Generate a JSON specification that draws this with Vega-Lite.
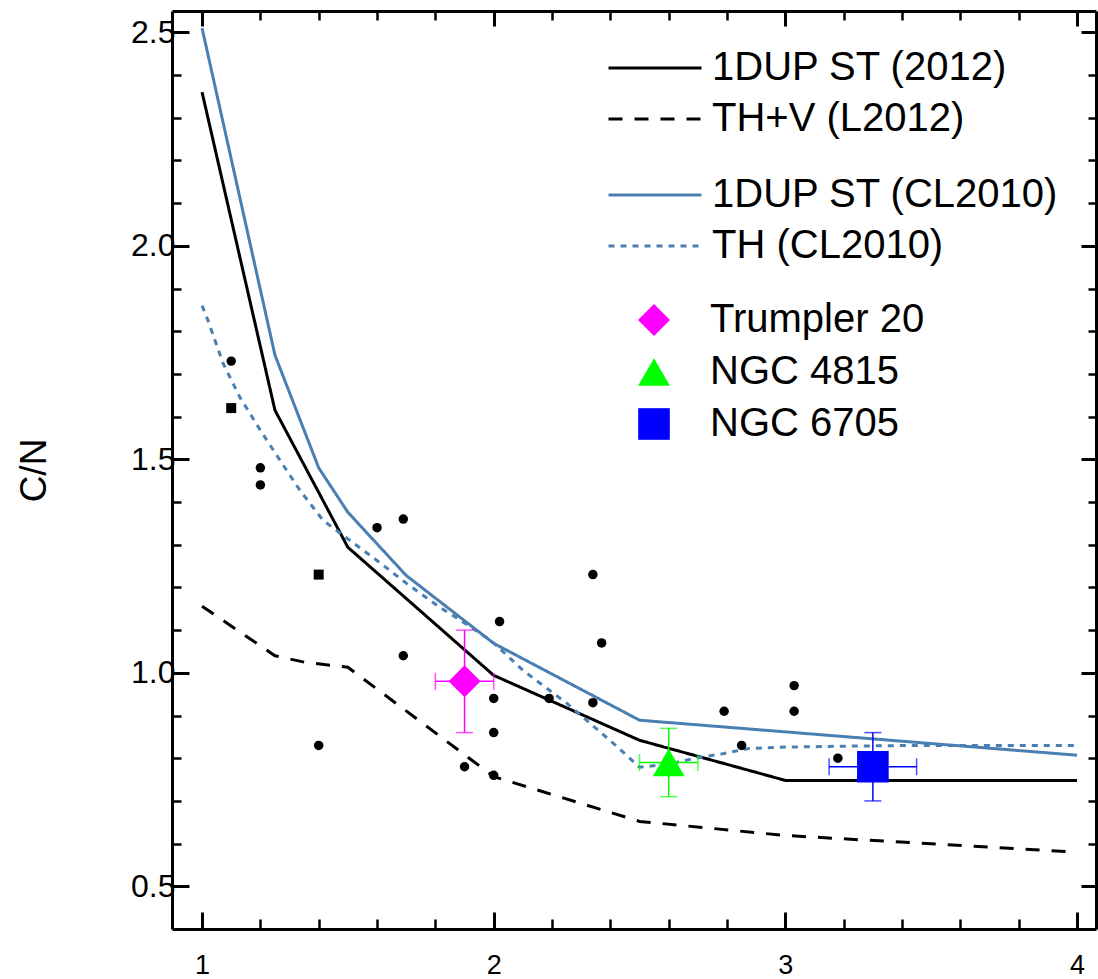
{
  "$schema": "https://vega.github.io/schema/vega-lite/v6.json",
  "width": 924,
  "height": 918,
  "autosize": {"type": "none"},
  "padding": {"left": 172, "top": 11, "right": 2, "bottom": 50},
  "background": "white",
  "config": {
    "view": {"stroke": null},
    "font": "Liberation Sans",
    "legend": {
      "labelFont": "Liberation Sans",
      "labelFontSize": 40,
      "labelColor": "black",
      "labelLimit": 600,
      "padding": 0,
      "title": null
    }
  },
  "datasets": {
    "black": [
      {"model": "1DUP ST (2012)", "m": 1.0, "cn": 2.36},
      {"model": "1DUP ST (2012)", "m": 1.25, "cn": 1.615},
      {"model": "1DUP ST (2012)", "m": 1.5, "cn": 1.294},
      {"model": "1DUP ST (2012)", "m": 2.0, "cn": 0.994},
      {"model": "1DUP ST (2012)", "m": 2.5, "cn": 0.842},
      {"model": "1DUP ST (2012)", "m": 3.0, "cn": 0.748},
      {"model": "1DUP ST (2012)", "m": 4.0, "cn": 0.748},
      {"model": "TH+V (L2012)", "m": 1.0, "cn": 1.156},
      {"model": "TH+V (L2012)", "m": 1.25, "cn": 1.04},
      {"model": "TH+V (L2012)", "m": 1.35, "cn": 1.025},
      {"model": "TH+V (L2012)", "m": 1.5, "cn": 1.013},
      {"model": "TH+V (L2012)", "m": 2.0, "cn": 0.757},
      {"model": "TH+V (L2012)", "m": 2.5, "cn": 0.652},
      {"model": "TH+V (L2012)", "m": 3.0, "cn": 0.619},
      {"model": "TH+V (L2012)", "m": 4.0, "cn": 0.58}
    ],
    "blue": [
      {"model": "1DUP ST (CL2010)", "m": 1.0, "cn": 2.51},
      {"model": "1DUP ST (CL2010)", "m": 1.25, "cn": 1.744},
      {"model": "1DUP ST (CL2010)", "m": 1.4, "cn": 1.48},
      {"model": "1DUP ST (CL2010)", "m": 1.5, "cn": 1.376},
      {"model": "1DUP ST (CL2010)", "m": 1.7, "cn": 1.228},
      {"model": "1DUP ST (CL2010)", "m": 2.0, "cn": 1.069},
      {"model": "1DUP ST (CL2010)", "m": 2.5, "cn": 0.889},
      {"model": "1DUP ST (CL2010)", "m": 4.0, "cn": 0.807},
      {"model": "TH (CL2010)", "m": 1.0, "cn": 1.86},
      {"model": "TH (CL2010)", "m": 1.02, "cn": 1.826},
      {"model": "TH (CL2010)", "m": 1.072, "cn": 1.725},
      {"model": "TH (CL2010)", "m": 1.13, "cn": 1.645},
      {"model": "TH (CL2010)", "m": 1.2, "cn": 1.568},
      {"model": "TH (CL2010)", "m": 1.267, "cn": 1.498},
      {"model": "TH (CL2010)", "m": 1.336, "cn": 1.427},
      {"model": "TH (CL2010)", "m": 1.415, "cn": 1.357},
      {"model": "TH (CL2010)", "m": 1.507, "cn": 1.31},
      {"model": "TH (CL2010)", "m": 1.6, "cn": 1.263},
      {"model": "TH (CL2010)", "m": 1.7, "cn": 1.21},
      {"model": "TH (CL2010)", "m": 1.816, "cn": 1.153},
      {"model": "TH (CL2010)", "m": 1.87, "cn": 1.13},
      {"model": "TH (CL2010)", "m": 1.99, "cn": 1.076},
      {"model": "TH (CL2010)", "m": 2.1, "cn": 1.006},
      {"model": "TH (CL2010)", "m": 2.16, "cn": 0.975},
      {"model": "TH (CL2010)", "m": 2.25, "cn": 0.929},
      {"model": "TH (CL2010)", "m": 2.33, "cn": 0.882},
      {"model": "TH (CL2010)", "m": 2.41, "cn": 0.835},
      {"model": "TH (CL2010)", "m": 2.5, "cn": 0.779},
      {"model": "TH (CL2010)", "m": 2.6, "cn": 0.786},
      {"model": "TH (CL2010)", "m": 2.69, "cn": 0.8},
      {"model": "TH (CL2010)", "m": 2.79, "cn": 0.811},
      {"model": "TH (CL2010)", "m": 2.875, "cn": 0.823},
      {"model": "TH (CL2010)", "m": 3.0, "cn": 0.826},
      {"model": "TH (CL2010)", "m": 3.19, "cn": 0.828},
      {"model": "TH (CL2010)", "m": 3.44, "cn": 0.83},
      {"model": "TH (CL2010)", "m": 3.68, "cn": 0.83},
      {"model": "TH (CL2010)", "m": 4.0, "cn": 0.83}
    ],
    "circles": [
      {"m": 1.1, "cn": 1.73}, {"m": 1.2, "cn": 1.48}, {"m": 1.2, "cn": 1.44},
      {"m": 1.6, "cn": 1.34}, {"m": 1.69, "cn": 1.36}, {"m": 1.69, "cn": 1.04},
      {"m": 1.4, "cn": 0.83}, {"m": 2.02, "cn": 1.12}, {"m": 2.0, "cn": 0.94},
      {"m": 2.0, "cn": 0.86}, {"m": 1.9, "cn": 0.78}, {"m": 2.0, "cn": 0.76},
      {"m": 2.34, "cn": 1.23}, {"m": 2.37, "cn": 1.07}, {"m": 2.19, "cn": 0.94},
      {"m": 2.34, "cn": 0.93}, {"m": 2.79, "cn": 0.91}, {"m": 3.03, "cn": 0.97},
      {"m": 3.03, "cn": 0.91}, {"m": 2.85, "cn": 0.83}, {"m": 3.18, "cn": 0.8}
    ],
    "squares": [
      {"m": 1.1, "cn": 1.62}, {"m": 1.4, "cn": 1.23}
    ],
    "clusters": [
      {"cluster": "Trumpler 20", "m": 1.9, "cn": 0.98, "m_lo": 1.8, "m_hi": 2.0, "cn_lo": 0.86, "cn_hi": 1.1},
      {"cluster": "NGC 4815", "m": 2.6, "cn": 0.79, "m_lo": 2.5, "m_hi": 2.7, "cn_lo": 0.71, "cn_hi": 0.87},
      {"cluster": "NGC 6705", "m": 3.3, "cn": 0.78, "m_lo": 3.15, "m_hi": 3.45, "cn_lo": 0.7, "cn_hi": 0.86}
    ]
  },
  "resolve": {
    "axis": {"x": "independent", "y": "independent"},
    "scale": {"strokeDash": "independent"},
    "legend": {"strokeDash": "independent"}
  },
  "layer": [
    {
      "data": {"name": "black"},
      "mark": {"type": "line", "color": "black", "strokeWidth": 3},
      "encoding": {
        "x": {"field": "m", "type": "quantitative",
          "scale": {"domain": [0.897, 4.065], "nice": false, "zero": false},
          "axis": {"orient": "bottom", "values": [1, 2, 3, 4], "format": "d", "title": null, "grid": false,
            "tickSize": -17, "tickWidth": 3, "tickColor": "black", "domain": true, "domainColor": "black", "domainWidth": 3,
            "labelFont": "Liberation Sans", "labelFontSize": 27, "labelColor": "black", "labelPadding": 40}},
        "y": {"field": "cn", "type": "quantitative",
          "scale": {"domain": [0.4, 2.55], "nice": false, "zero": false},
          "axis": {"orient": "left", "values": [0.5, 1.0, 1.5, 2.0, 2.5], "format": ".1f", "title": "C/N", "grid": false,
            "tickSize": -17, "tickWidth": 3, "tickColor": "black", "domain": true, "domainColor": "black", "domainWidth": 3,
            "labelFont": "Liberation Sans", "labelFontSize": 32, "labelColor": "black", "labelPadding": 14,
            "titleFont": "Liberation Sans", "titleFontSize": 37, "titleFontWeight": "normal", "titleColor": "black", "titlePadding": 77}},
        "strokeDash": {"field": "model", "type": "nominal",
          "scale": {"domain": ["1DUP ST (2012)", "TH+V (L2012)"], "range": [[1, 0], [14, 12]]},
          "legend": {"orient": "none", "legendX": 458, "legendY": 32, "symbolType": "M-2,0H2", "symbolSize": 2162,
            "symbolStrokeColor": "black", "symbolStrokeWidth": 3, "labelOffset": 32, "rowPadding": 6}}
      }
    },
    {
      "data": {"name": "blue"},
      "mark": {"type": "line", "color": "#4a7fb2", "strokeWidth": 3},
      "encoding": {
        "x": {"field": "m", "type": "quantitative",
          "scale": {"domain": [0.897, 4.065], "nice": false, "zero": false},
          "axis": {"orient": "bottom", "values": [1.2, 1.4, 1.6, 1.8, 2.2, 2.4, 2.6, 2.8, 3.2, 3.4, 3.6, 3.8], "labels": false, "title": null, "grid": false,
            "tickSize": -10, "tickWidth": 2.5, "tickColor": "black", "domain": false}},
        "y": {"field": "cn", "type": "quantitative",
          "scale": {"domain": [0.4, 2.55], "nice": false, "zero": false},
          "axis": {"orient": "left", "values": [0.6, 0.7, 0.8, 0.9, 1.1, 1.2, 1.3, 1.4, 1.6, 1.7, 1.8, 1.9, 2.1, 2.2, 2.3, 2.4], "labels": false, "title": null, "grid": false,
            "tickSize": -9, "tickWidth": 2.5, "tickColor": "black", "domain": false}},
        "strokeDash": {"field": "model", "type": "nominal",
          "scale": {"domain": ["1DUP ST (CL2010)", "TH (CL2010)"], "range": [[1, 0], [6, 6]]},
          "legend": {"orient": "none", "legendX": 458, "legendY": 159, "symbolType": "M-2,0H2", "symbolSize": 2162,
            "symbolStrokeColor": "#4a7fb2", "symbolStrokeWidth": 3, "labelOffset": 32, "rowPadding": 6}}
      }
    },
    {
      "data": {"name": "circles"},
      "mark": {"type": "point", "shape": "circle", "filled": true, "color": "black", "opacity": 1, "size": 90},
      "encoding": {
        "x": {"field": "m", "type": "quantitative",
          "scale": {"domain": [0.897, 4.065], "nice": false, "zero": false},
          "axis": {"orient": "top", "values": [1, 2, 3, 4], "labels": false, "title": null, "grid": false,
            "tickSize": -15, "tickWidth": 3, "tickColor": "black", "domain": true, "domainColor": "black", "domainWidth": 3}},
        "y": {"field": "cn", "type": "quantitative",
          "scale": {"domain": [0.4, 2.55], "nice": false, "zero": false},
          "axis": {"orient": "right", "values": [0.5, 1.0, 1.5, 2.0, 2.5], "labels": false, "title": null, "grid": false,
            "tickSize": -15, "tickWidth": 3, "tickColor": "black", "domain": true, "domainColor": "black", "domainWidth": 3}}
      }
    },
    {
      "data": {"name": "squares"},
      "mark": {"type": "point", "shape": "square", "filled": true, "color": "black", "opacity": 1, "size": 100},
      "encoding": {
        "x": {"field": "m", "type": "quantitative",
          "scale": {"domain": [0.897, 4.065], "nice": false, "zero": false},
          "axis": {"orient": "top", "values": [1.2, 1.4, 1.6, 1.8, 2.2, 2.4, 2.6, 2.8, 3.2, 3.4, 3.6, 3.8], "labels": false, "title": null, "grid": false,
            "tickSize": -9, "tickWidth": 2.5, "tickColor": "black", "domain": false}},
        "y": {"field": "cn", "type": "quantitative",
          "scale": {"domain": [0.4, 2.55], "nice": false, "zero": false},
          "axis": {"orient": "right", "values": [0.6, 0.7, 0.8, 0.9, 1.1, 1.2, 1.3, 1.4, 1.6, 1.7, 1.8, 1.9, 2.1, 2.2, 2.3, 2.4], "labels": false, "title": null, "grid": false,
            "tickSize": -8, "tickWidth": 2.5, "tickColor": "black", "domain": false}}
      }
    },
    {
      "data": {"name": "clusters"},
      "transform": [{"filter": "datum.cluster === 'Trumpler 20'"}],
      "mark": {"type": "errorbar", "ticks": {"size": 17}, "thickness": 1.5, "color": "#ff00ff"},
      "encoding": {
        "x": {"field": "m", "type": "quantitative", "scale": {"domain": [0.897, 4.065], "nice": false, "zero": false}, "axis": null},
        "y": {"field": "cn_lo", "type": "quantitative", "scale": {"domain": [0.4, 2.55], "nice": false, "zero": false}, "axis": null},
        "y2": {"field": "cn_hi"}
      }
    },
    {
      "data": {"name": "clusters"},
      "transform": [{"filter": "datum.cluster === 'Trumpler 20'"}],
      "mark": {"type": "errorbar", "ticks": {"size": 17}, "thickness": 1.5, "color": "#ff00ff"},
      "encoding": {
        "y": {"field": "cn", "type": "quantitative", "scale": {"domain": [0.4, 2.55], "nice": false, "zero": false}, "axis": null},
        "x": {"field": "m_lo", "type": "quantitative", "scale": {"domain": [0.897, 4.065], "nice": false, "zero": false}, "axis": null},
        "x2": {"field": "m_hi"}
      }
    },
    {
      "data": {"name": "clusters"},
      "transform": [{"filter": "datum.cluster === 'NGC 4815'"}],
      "mark": {"type": "errorbar", "ticks": {"size": 17}, "thickness": 1.5, "color": "#00ff00"},
      "encoding": {
        "x": {"field": "m", "type": "quantitative", "scale": {"domain": [0.897, 4.065], "nice": false, "zero": false}, "axis": null},
        "y": {"field": "cn_lo", "type": "quantitative", "scale": {"domain": [0.4, 2.55], "nice": false, "zero": false}, "axis": null},
        "y2": {"field": "cn_hi"}
      }
    },
    {
      "data": {"name": "clusters"},
      "transform": [{"filter": "datum.cluster === 'NGC 4815'"}],
      "mark": {"type": "errorbar", "ticks": {"size": 17}, "thickness": 1.5, "color": "#00ff00"},
      "encoding": {
        "y": {"field": "cn", "type": "quantitative", "scale": {"domain": [0.4, 2.55], "nice": false, "zero": false}, "axis": null},
        "x": {"field": "m_lo", "type": "quantitative", "scale": {"domain": [0.897, 4.065], "nice": false, "zero": false}, "axis": null},
        "x2": {"field": "m_hi"}
      }
    },
    {
      "data": {"name": "clusters"},
      "transform": [{"filter": "datum.cluster === 'NGC 6705'"}],
      "mark": {"type": "errorbar", "ticks": {"size": 17}, "thickness": 1.5, "color": "#0000ff"},
      "encoding": {
        "x": {"field": "m", "type": "quantitative", "scale": {"domain": [0.897, 4.065], "nice": false, "zero": false}, "axis": null},
        "y": {"field": "cn_lo", "type": "quantitative", "scale": {"domain": [0.4, 2.55], "nice": false, "zero": false}, "axis": null},
        "y2": {"field": "cn_hi"}
      }
    },
    {
      "data": {"name": "clusters"},
      "transform": [{"filter": "datum.cluster === 'NGC 6705'"}],
      "mark": {"type": "errorbar", "ticks": {"size": 17}, "thickness": 1.5, "color": "#0000ff"},
      "encoding": {
        "y": {"field": "cn", "type": "quantitative", "scale": {"domain": [0.4, 2.55], "nice": false, "zero": false}, "axis": null},
        "x": {"field": "m_lo", "type": "quantitative", "scale": {"domain": [0.897, 4.065], "nice": false, "zero": false}, "axis": null},
        "x2": {"field": "m_hi"}
      }
    },
    {
      "data": {"name": "clusters"},
      "mark": {"type": "point", "filled": true, "opacity": 1},
      "encoding": {
        "x": {"field": "m", "type": "quantitative", "scale": {"domain": [0.897, 4.065], "nice": false, "zero": false}, "axis": null},
        "y": {"field": "cn", "type": "quantitative", "scale": {"domain": [0.4, 2.55], "nice": false, "zero": false}, "axis": null},
        "color": {"field": "cluster", "type": "nominal",
          "scale": {"domain": ["Trumpler 20", "NGC 4815", "NGC 6705"], "range": ["#ff00ff", "#00ff00", "#0000ff"]},
          "legend": {"orient": "none", "legendX": 462, "legendY": 289, "labelOffset": 36, "rowPadding": 12}},
        "shape": {"field": "cluster", "type": "nominal",
          "scale": {"domain": ["Trumpler 20", "NGC 4815", "NGC 6705"], "range": ["diamond", "triangle-up", "square"]},
          "legend": {"orient": "none", "legendX": 462, "legendY": 289, "labelOffset": 36, "rowPadding": 12}},
        "size": {"field": "cluster", "type": "nominal",
          "scale": {"domain": ["Trumpler 20", "NGC 4815", "NGC 6705"], "range": [1024, 1000, 560]},
          "legend": {"orient": "none", "legendX": 462, "legendY": 289, "labelOffset": 36, "rowPadding": 12}}
      }
    }
  ]
}
